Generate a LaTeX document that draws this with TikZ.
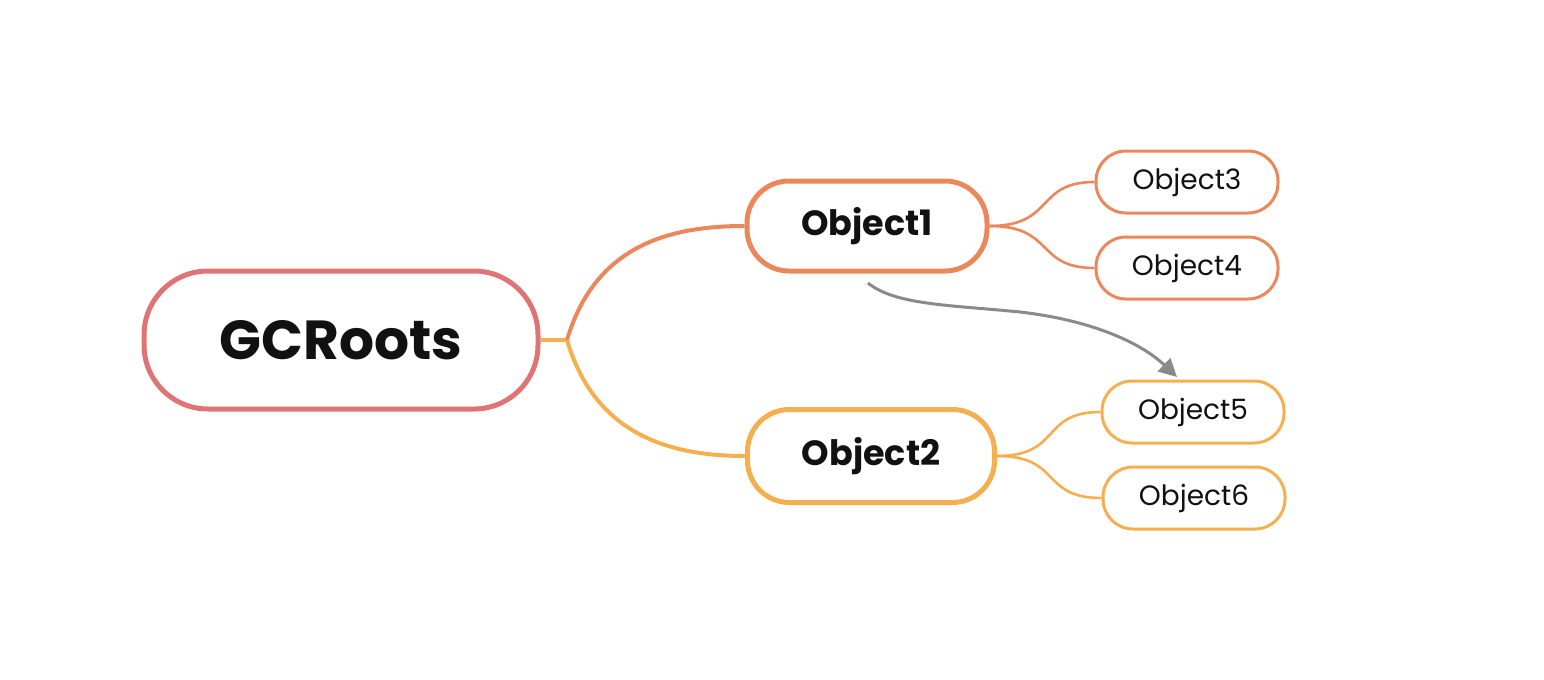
\documentclass[tikz,border=0pt]{standalone}
\usepackage{fontspec}
\setmainfont{Poppins}
\usetikzlibrary{arrows.meta}
\definecolor{rootc}{HTML}{E07474}
\definecolor{onec}{HTML}{EC875C}
\definecolor{twoc}{HTML}{F5AF4E}
\definecolor{grayc}{HTML}{8A8A8A}
\definecolor{txt}{HTML}{111111}
\tikzset{
  rootbox/.style={draw=rootc, line width=2.5pt, rounded corners=32pt, minimum width=197pt, minimum height=69pt, inner sep=0pt, font=\fontsize{27.5}{32}\selectfont\bfseries, text=txt},
  midbox/.style={line width=2.5pt, rounded corners=21pt, minimum height=45pt, inner sep=0pt, font=\fontsize{17.5}{21}\selectfont\bfseries, text=txt},
  leafbox/.style={line width=1.5pt, rounded corners=15pt, minimum width=91pt, minimum height=31pt, inner sep=0pt, font=\fontsize{14}{17}\selectfont, text=txt},
  mainline/.style={line width=2pt},
  subline/.style={line width=1.3pt},
}
\begin{document}
\begin{tikzpicture}[x=0.5pt,y=-0.5pt]
\useasboundingbox (0,0) rectangle (1544,680);
\node[rootbox] (root) at (341,340) {GCRoots};
\node[midbox, draw=onec, minimum width=120pt] (o1) at (867,226) {Object1};
\node[midbox, draw=twoc, minimum width=123.5pt, minimum height=46.5pt] (o2) at (871,456) {Object2};
\node[leafbox, draw=onec] (o3) at (1187,182) {\raisebox{-1pt}{Object3}};
\node[leafbox, draw=onec] (o4) at (1187,268) {\raisebox{-1pt}{Object4}};
\node[leafbox, draw=twoc] (o5) at (1193,412) {\raisebox{-1pt}{Object5}};
\node[leafbox, draw=twoc] (o6) at (1194,498) {\raisebox{-1pt}{Object6}};
\coordinate (hub) at (567,340);
\coordinate (arrs) at (868,283);
\coordinate (arre) at (1177,377);
\draw[mainline, twoc] (root.east) -- (hub);
\draw[mainline, onec] (hub) .. controls (595,245) and (670,226) .. (o1.west);
\draw[mainline, twoc] (hub) .. controls (595,435) and (670,456) .. (o2.west);
\draw[subline, onec] (o1.east) .. controls (1055,226) and (1035,182) .. (o3.west);
\draw[subline, onec] (o1.east) .. controls (1055,226) and (1035,268) .. (o4.west);
\draw[subline, twoc] (o2.east) .. controls (1062,456) and (1040,412) .. (o5.west);
\draw[subline, twoc] (o2.east) .. controls (1062,456) and (1040,498) .. (o6.west);
\draw[line width=1.5pt, grayc, -{Triangle[length=9pt,width=9pt]}] (arrs) .. controls (895,305) and (950,305) .. (1020,312) .. controls (1090,320) and (1140,342) .. (arre);
\end{tikzpicture}
\end{document}
